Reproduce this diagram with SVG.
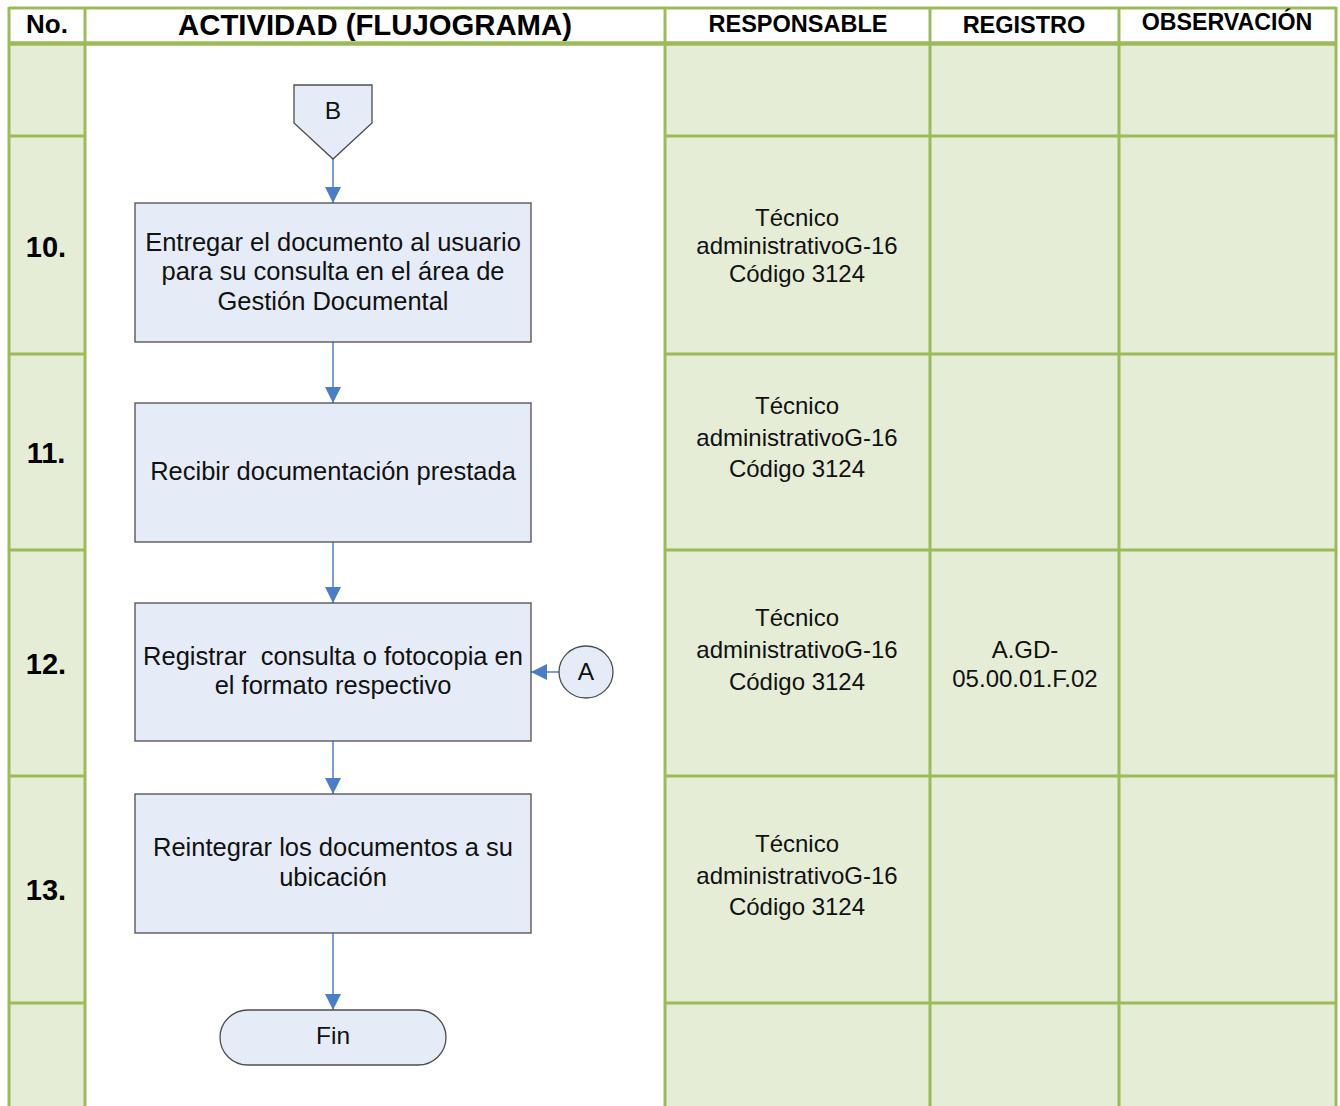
<svg xmlns="http://www.w3.org/2000/svg" width="1340" height="1106" viewBox="0 0 1340 1106">
<defs>
<style>
.cell{fill:#E5EDD7;stroke:none}
.grid{stroke:#9BBB59;stroke-width:3;fill:none}
.hdr{font-family:"Liberation Sans",Arial,sans-serif;font-weight:bold;fill:#000;text-anchor:middle}
.num{font-family:"Liberation Sans",Arial,sans-serif;font-weight:bold;font-size:29px;fill:#000;text-anchor:middle}
.txt{font-family:"Liberation Sans",Arial,sans-serif;font-size:24px;fill:#111;text-anchor:middle}
.btxt{font-family:"Liberation Sans",Arial,sans-serif;font-size:25.5px;fill:#111;text-anchor:middle}
.ctxt{font-family:"Liberation Sans",Arial,sans-serif;font-size:24.5px;fill:#111;text-anchor:middle}
.shape{fill:#E6ECF7;stroke:#4D4D4D;stroke-width:1.3}
.conn{stroke:#4A7EC8;stroke-width:1.5;fill:none;marker-end:url(#arr)}
</style>
<marker id="arr" markerUnits="userSpaceOnUse" markerWidth="16" markerHeight="16" refX="16" refY="8" orient="auto">
<path d="M0,0 L16,8 L0,16 z" fill="#4A7EC8"/>
</marker>
</defs>
<rect x="0" y="0" width="1340" height="1106" fill="#FFFFFF"/>
<g id="table">
<rect class="cell" x="9" y="44" width="76" height="1062"/>
<rect class="cell" x="665" y="44" width="671" height="1062"/>
<path class="grid" d="M9,8 H1336 M9,1003 H85 M665,1003 H1336"/>
<path class="grid" d="M9,136 H85 M665,136 H1336 M9,354 H85 M665,354 H1336 M9,550 H85 M665,550 H1336 M9,776 H85 M665,776 H1336"/>
<path d="M9,43.5 H1336" stroke="#9BBB59" stroke-width="4.5" fill="none"/>
<path class="grid" d="M9,7 V1106 M85,7 V1106 M665,7 V1106 M930,7 V1106 M1119,7 V1106 M1336,7 V1106"/>
<text class="hdr" x="47" y="33" font-size="26">No.</text>
<text class="hdr" x="375" y="35" font-size="29.3">ACTIVIDAD (FLUJOGRAMA)</text>
<text class="hdr" x="798" y="32" font-size="23.5">RESPONSABLE</text>
<text class="hdr" x="1024" y="33" font-size="23.5">REGISTRO</text>
<text class="hdr" x="1227" y="30" font-size="23.2">OBSERVACIÓN</text>
<text class="num" x="46" y="257">10.</text>
<text class="num" x="46" y="463">11.</text>
<text class="num" x="46" y="674">12.</text>
<text class="num" x="46" y="900">13.</text>
<text class="txt" x="797" y="226">Técnico</text>
<text class="txt" x="797" y="254">administrativoG-16</text>
<text class="txt" x="797" y="282">Código 3124</text>
<text class="txt" x="797" y="414">Técnico</text>
<text class="txt" x="797" y="446">administrativoG-16</text>
<text class="txt" x="797" y="477">Código 3124</text>
<text class="txt" x="797" y="626">Técnico</text>
<text class="txt" x="797" y="658">administrativoG-16</text>
<text class="txt" x="797" y="690">Código 3124</text>
<text class="txt" x="797" y="852">Técnico</text>
<text class="txt" x="797" y="884">administrativoG-16</text>
<text class="txt" x="797" y="915">Código 3124</text>
<text class="txt" x="1025" y="658">A.GD-</text>
<text class="txt" x="1025" y="687">05.00.01.F.02</text>
</g>
<g id="connectors">
<path class="conn" d="M333,159 V203"/>
<path class="conn" d="M333,342 V403"/>
<path class="conn" d="M333,542 V603"/>
<path class="conn" d="M333,741 V794"/>
<path class="conn" d="M333,933 V1010"/>
<path class="conn" d="M559,672 H531"/>
</g>
<g id="nodeB">
<path class="shape" d="M294,85 H372 V123 L333,159 L294,123 Z"/>
<text class="ctxt" x="333" y="119">B</text>
</g>
<g id="node10">
<rect class="shape" x="135" y="203" width="396" height="139"/>
<text class="btxt" x="333" y="251">Entregar el documento al usuario</text>
<text class="btxt" x="333" y="280">para su consulta en el área de</text>
<text class="btxt" x="333" y="310">Gestión Documental</text>
</g>
<g id="node11">
<rect class="shape" x="135" y="403" width="396" height="139"/>
<text class="btxt" x="333" y="480">Recibir documentación prestada</text>
</g>
<g id="node12">
<rect class="shape" x="135" y="603" width="396" height="138"/>
<text class="btxt" x="333" y="665" xml:space="preserve">Registrar  consulta o fotocopia en</text>
<text class="btxt" x="333" y="694">el formato respectivo</text>
</g>
<g id="nodeA">
<ellipse class="shape" cx="586" cy="672" rx="27" ry="26"/>
<text class="ctxt" x="586" y="680">A</text>
</g>
<g id="node13">
<rect class="shape" x="135" y="794" width="396" height="139"/>
<text class="btxt" x="333" y="856">Reintegrar los documentos a su</text>
<text class="btxt" x="333" y="886">ubicación</text>
</g>
<g id="nodeFin">
<rect class="shape" x="220" y="1010" width="226" height="55" rx="28" ry="27.5"/>
<text class="ctxt" x="333" y="1044">Fin</text>
</g>
</svg>
